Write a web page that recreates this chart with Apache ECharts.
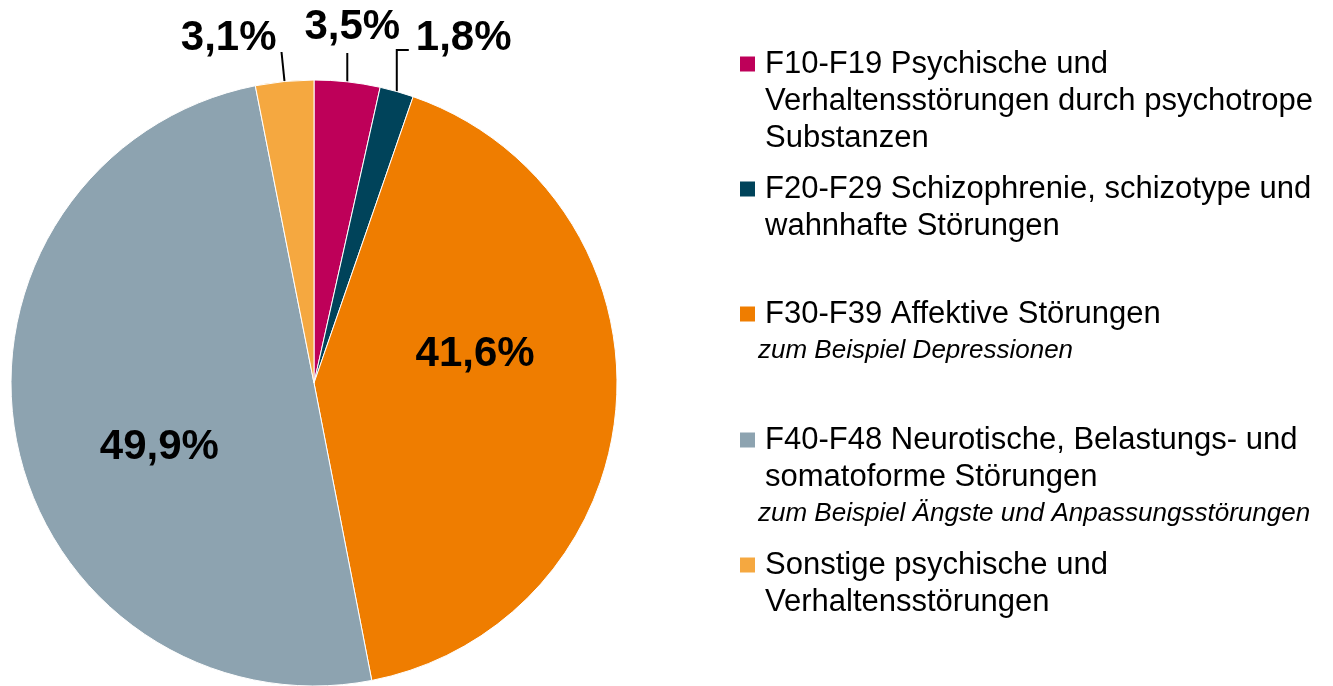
<!DOCTYPE html>
<html>
<head>
<meta charset="utf-8">
<script src="https://cdn.jsdelivr.net/npm/echarts@6/dist/echarts.min.js"></script>
<style>
  html, body { margin: 0; padding: 0; background: #fff; }
  #main { width: 1333px; height: 686px; }
</style>
</head>
<body>
<div id="main"></div>
<script>
// data
const categories = ['F10-F19', 'F20-F29', 'F30-F39', 'F40-F48', 'Sonstige'];
const shares = [3.5, 1.8, 41.6, 49.9, 3.1];
const colors = ['#BE0059', '#00435A', '#EF7D00', '#8DA3B0', '#F5A840'];
const legendLines = [
    ['F10-F19 Psychische und', 'Verhaltensstörungen durch psychotrope', 'Substanzen'],
    ['F20-F29 Schizophrenie, schizotype und', 'wahnhafte Störungen'],
    ['F30-F39 Affektive Störungen'],
    ['F40-F48 Neurotische, Belastungs- und', 'somatoforme Störungen'],
    ['Sonstige psychische und', 'Verhaltensstörungen']
];
const legendNotes = ['', '', 'zum Beispiel Depressionen', 'zum Beispiel Ängste und Anpassungsstörungen', ''];
const legendFirstLine = [67, 192, 317, 443, 568]; // y of first legend line

const font = 'Liberation Sans, Arial, sans-serif';
const insideLabels = [2, 3];

var chart = echarts.init(document.getElementById('main'));

var seriesData = categories.map((name, i) => {
    var inside = insideLabels.indexOf(i) >= 0;
    return {
        name: name,
        value: shares[i],
        label: { position: inside ? 'inside' : 'outside' },
        labelLine: { show: !inside }
    };
});

// one legend box per entry, the coloured square is part of the rich text
var legends = categories.map((name, i) => {
    var rich = {
        sq: { width: 15, height: 15, backgroundColor: colors[i] },
        m: { fontSize: 31, lineHeight: 37, padding: [0, 0, 0, 10], fontFamily: font, color: '#000' },
        n: { fontSize: 31, lineHeight: 37, padding: [0, 0, 0, 25], fontFamily: font, color: '#000' },
        i: { fontSize: 26, lineHeight: 37, padding: [0, 0, 0, 18], fontStyle: 'italic', fontFamily: font, color: '#000' }
    };
    return {
        data: [name],
        left: 735,
        top: legendFirstLine[i] - 18.5,
        padding: 0,
        icon: 'none',
        itemWidth: 0,
        itemHeight: 0,
        selectedMode: false,
        textStyle: { rich: rich },
        formatter: function () {
            var lines = legendLines[i];
            var s = '{sq| }{m|' + lines[0] + '}';
            for (var k = 1; k < lines.length; k++) {
                s += '\n{n|' + lines[k] + '}';
            }
            if (legendNotes[i]) {
                s += '\n{i|' + legendNotes[i] + '}';
            }
            return s;
        }
    };
});

var option = {
    backgroundColor: '#fff',
    animation: false,
    color: colors,
    legend: legends,
    series: [
        {
            type: 'pie',
            center: [314, 383],
            radius: [0, 303],
            startAngle: 90,
            clockwise: true,
            avoidLabelOverlap: false,
            itemStyle: { borderColor: '#fff', borderWidth: 1 },
            label: {
                fontSize: 42,
                fontWeight: 'bold',
                fontFamily: font,
                color: '#000',
                formatter: function (p) {
                    return p.value.toFixed(1).replace('.', ',') + '%';
                }
            },
            labelLine: {
                length: 10,
                length2: 0,
                lineStyle: { color: '#000', width: 2 }
            },
            labelLayout: function (p) {
                var pt = p.labelLinePoints ? p.labelLinePoints[0] : null;
                if (p.dataIndex === 2) {
                    return { dx: 7, dy: -40 };
                }
                if (p.dataIndex === 3) {
                    return { dx: -3, dy: 35 };
                }
                if (!pt) return {};
                if (p.dataIndex === 0) {
                    return {
                        x: pt[0] + 5, y: 27, align: 'center', verticalAlign: 'middle',
                        labelLinePoints: [pt, [pt[0], 53], [pt[0], 53]]
                    };
                }
                if (p.dataIndex === 1) {
                    return {
                        x: pt[0] + 19, y: 38, align: 'left', verticalAlign: 'middle',
                        labelLinePoints: [pt, [pt[0], 50], [pt[0] + 12, 50]]
                    };
                }
                return {
                    x: pt[0] - 8, y: 38, align: 'right', verticalAlign: 'middle',
                    labelLinePoints: [pt, [pt[0] - 3, 52], [pt[0] - 3, 52]]
                };
            },
            data: seriesData
        }
    ]
};

chart.setOption(option);
</script>
</body>
</html>
